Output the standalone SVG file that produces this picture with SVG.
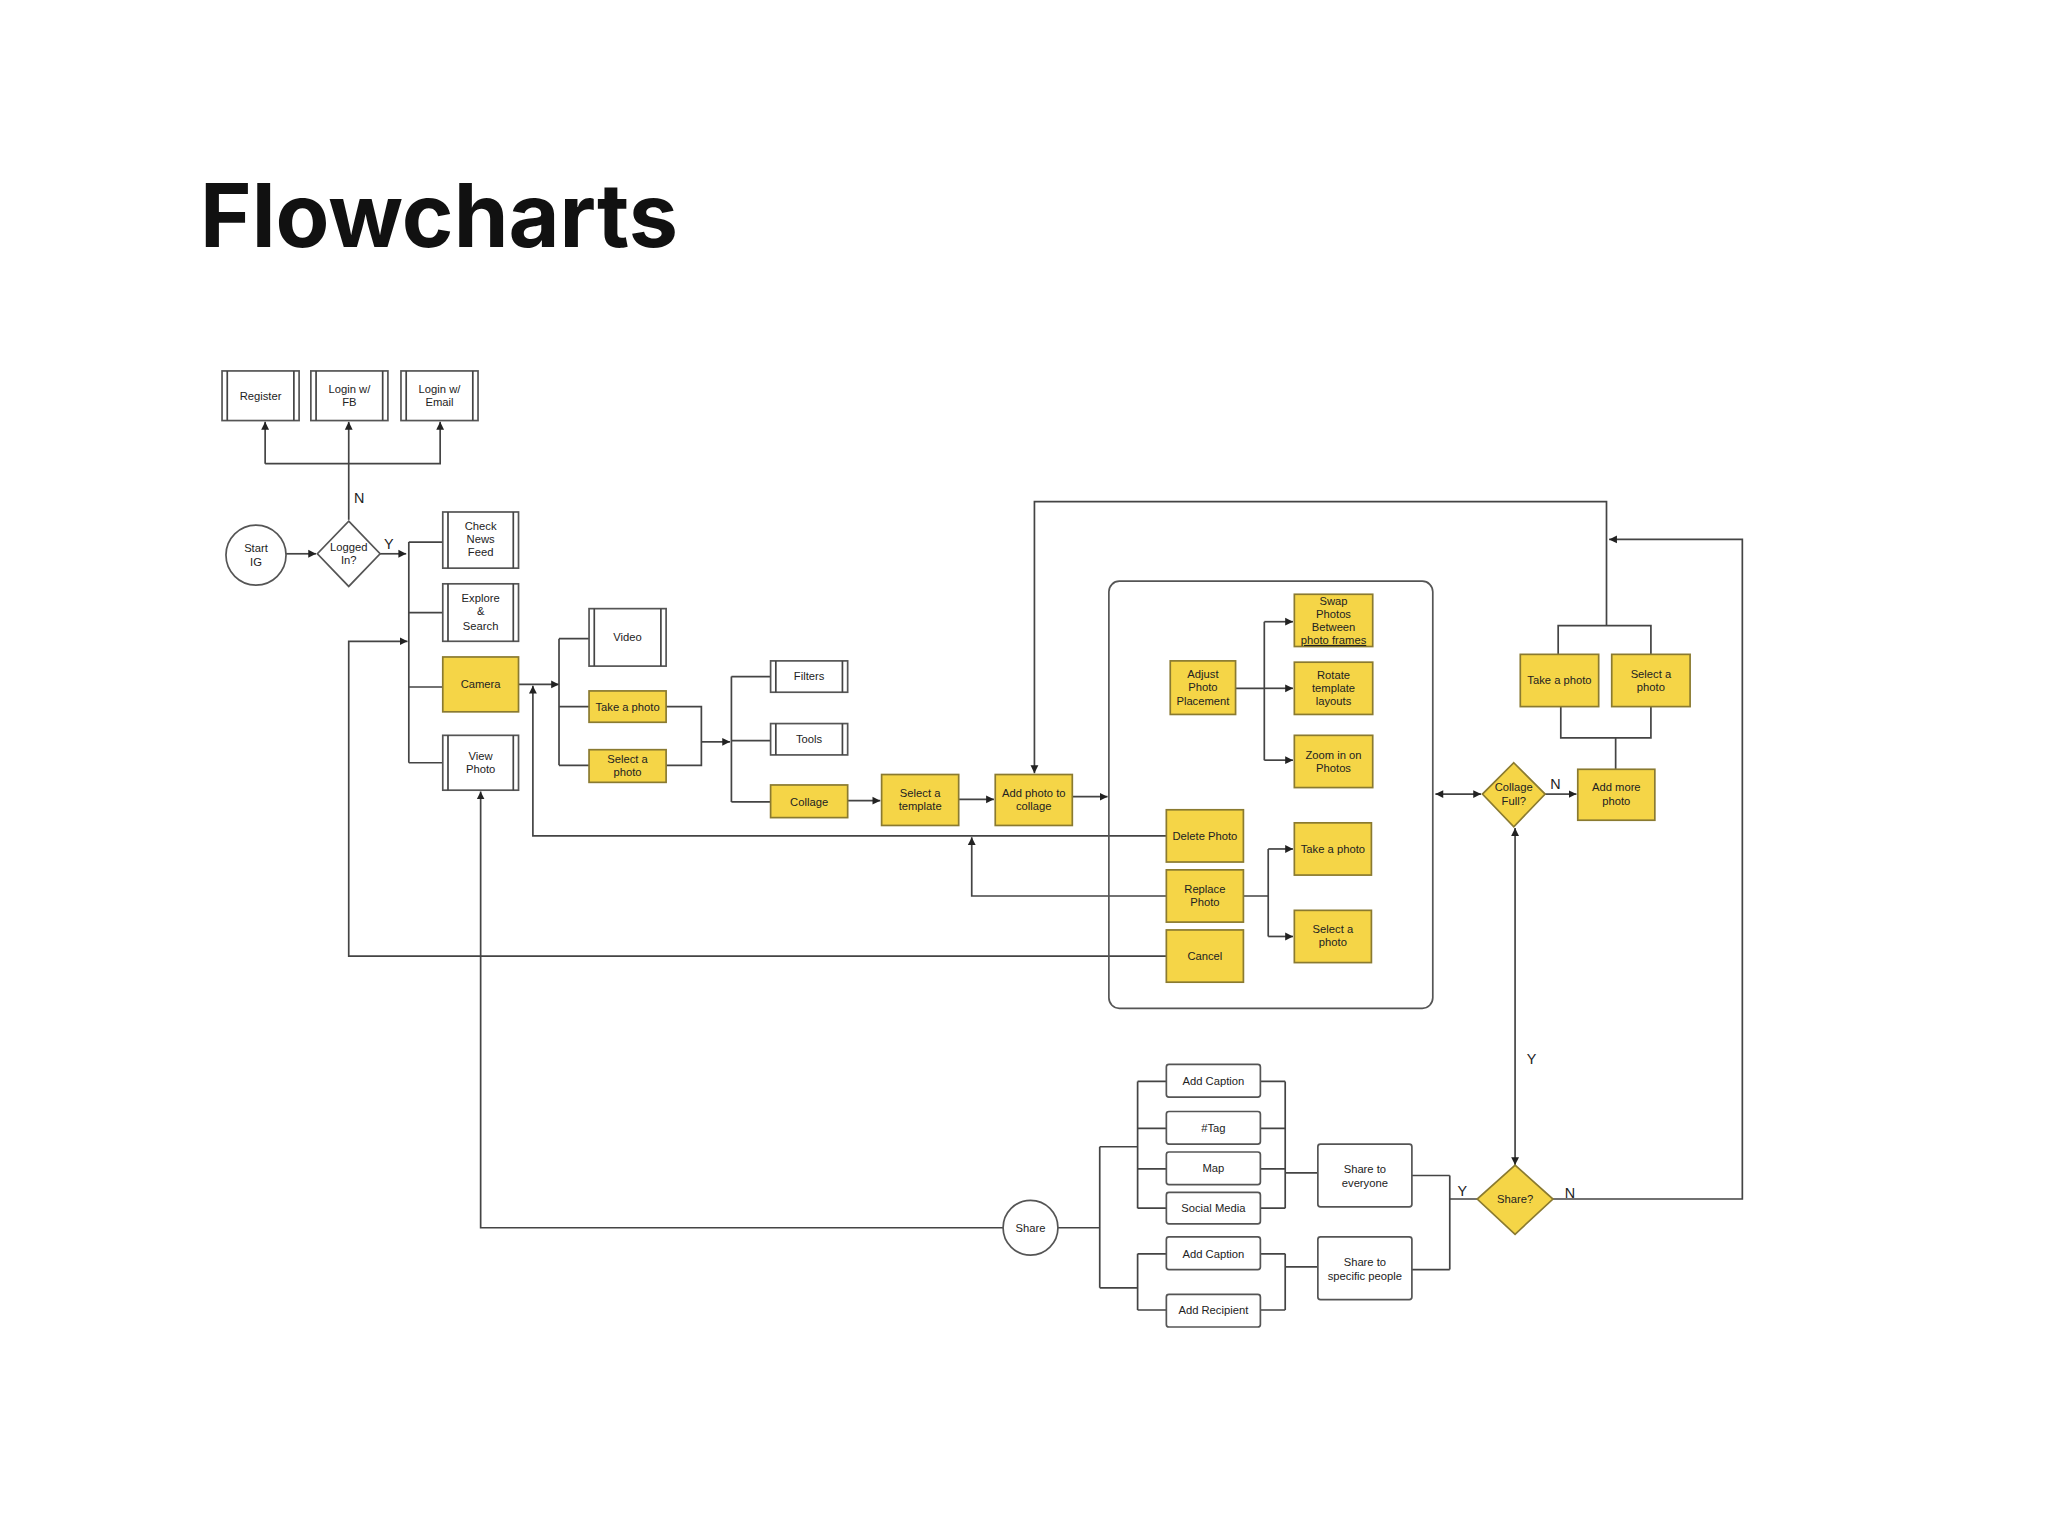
<svg xmlns="http://www.w3.org/2000/svg" width="2048" height="1536" viewBox="0 0 2048 1536">
<style>
.t{font-family:"Liberation Sans",Arial,sans-serif;font-size:8.6px;fill:#222;text-anchor:middle}
.l{font-family:"Liberation Sans",Arial,sans-serif;font-size:11px;fill:#222}
.w{fill:#fff;stroke:#555;stroke-width:1.3}
.y{fill:#f5d547;stroke:#8a7a30;stroke-width:1.3}
.c{fill:none;stroke:#444;stroke-width:1.3}
.a{fill:none;stroke:#444;stroke-width:1.3;marker-end:url(#ah)}
.ab{fill:none;stroke:#444;stroke-width:1.3;marker-end:url(#ah);marker-start:url(#as)}
</style>
<defs>
<marker id="ah" markerWidth="7" markerHeight="7" refX="6" refY="3.5" orient="auto" markerUnits="userSpaceOnUse"><path d="M0,0.5 L6,3.5 L0,6.5 Z" fill="#222"/></marker>
<marker id="as" markerWidth="7" markerHeight="7" refX="0" refY="3.5" orient="auto" markerUnits="userSpaceOnUse"><path d="M6,0.5 L0,3.5 L6,6.5 Z" fill="#222"/></marker>
</defs>
<rect width="2048" height="1536" fill="#fff"/>
<text x="200" y="247" font-family="Inter,Lato,sans-serif" font-weight="700" font-size="88" fill="#111">Flowcharts</text>
<g transform="scale(1.3061)">
<g id="connectors">
<path class="a" d="M267,398 V323"/>
<path class="a" d="M203,355 H337 V323"/>
<path class="a" d="M203,355 V323"/>
<path class="a" d="M219,424 H242"/>
<path class="a" d="M291,424 H311"/>
<path class="c" d="M313,415 V584 M313,415 H339 M313,469 H339 M313,526 H339 M313,584 H339"/>
<path class="a" d="M397,524 H428"/>
<path class="c" d="M428,489 V586 M428,489 H451 M428,541 H451 M428,586 H451"/>
<path class="c" d="M510,541 H537 V586 H510"/>
<path class="a" d="M537,568 H559"/>
<path class="c" d="M560,518 V614 M560,518 H590 M560,567 H590 M560,614 H590"/>
<path class="a" d="M649,613 H674"/>
<path class="a" d="M734,612 H761"/>
<path class="a" d="M821,610 H848"/>
<path class="a" d="M1230,479 V384 H792 V592"/>
<path class="c" d="M946,527 H968 M968,476 V582"/>
<path class="a" d="M968,476 H990"/>
<path class="a" d="M968,527 H990"/>
<path class="a" d="M968,582 H990"/>
<path class="a" d="M893,640 H408 V525"/>
<path class="a" d="M893,686 H744 V641"/>
<path class="c" d="M952,686 H971 M971,650 V717"/>
<path class="a" d="M971,650 H990"/>
<path class="a" d="M971,717 H990"/>
<path class="a" d="M893,732 H267 V491 H312"/>
<path class="ab" d="M1099,608 H1134"/>
<path class="a" d="M1183,608 H1207"/>
<path class="c" d="M1237,589 V565 M1195,541 V565 H1264 V541"/>
<path class="c" d="M1193,501 V479 H1264 V501"/>
<path class="a" d="M1189,918 H1334 V413 H1232"/>
<path class="ab" d="M1160,634 V892"/>
<path class="c" d="M1131,918 H1110 M1110,900 V972 M1081,900 H1110 M1081,972 H1110"/>
<path class="c" d="M965,828 H984 M965,864 H984 M965,895 H984 M965,925 H984 M984,828 V925 M984,898 H1009"/>
<path class="c" d="M871,828 H893 M871,864 H893 M871,895 H893 M871,925 H893 M871,828 V925"/>
<path class="c" d="M965,960 H984 M965,1003 H984 M984,960 V1003 M984,970 H1009"/>
<path class="c" d="M871,960 H893 M871,1003 H893 M871,960 V1003"/>
<path class="c" d="M842,878 H871 M842,986 H871 M842,878 V986 M810,940 H842"/>
<path class="a" d="M768,940 H368 V606"/>
</g>
<text class="l" x="271" y="385">N</text>
<text class="l" x="294" y="420">Y</text>
<text class="l" x="1187" y="604">N</text>
<text class="l" x="1169" y="815">Y</text>
<text class="l" x="1116" y="916">Y</text>
<text class="l" x="1198" y="917">N</text>
<g id="container"><rect x="849" y="445" width="248" height="327" rx="8" fill="none" stroke="#555" stroke-width="1.3"/></g>
<g id="register"><rect class="w" x="170" y="284" width="59" height="38"/><path class="c" d="M174,284V322M225,284V322"/><text class="t" x="199.5" y="306">Register</text></g>
<g id="loginfb"><rect class="w" x="238" y="284" width="59" height="38"/><path class="c" d="M242,284V322M293,284V322"/><text class="t" x="267.5" y="301">Login w/</text><text class="t" x="267.5" y="311">FB</text></g>
<g id="loginemail"><rect class="w" x="307" y="284" width="59" height="38"/><path class="c" d="M311,284V322M362,284V322"/><text class="t" x="336.5" y="301">Login w/</text><text class="t" x="336.5" y="311">Email</text></g>
<g id="start"><circle class="w" cx="196" cy="425" r="23"/><text class="t" x="196" y="423">Start</text><text class="t" x="196" y="433">IG</text></g>
<g id="logged"><path class="w" d="M267,399 L291,424 L267,449 L243,424 Z"/><text class="t" x="267" y="422">Logged</text><text class="t" x="267" y="432">In?</text></g>
<g id="news"><rect class="w" x="339" y="392" width="58" height="43"/><path class="c" d="M343,392V435M393,392V435"/><text class="t" x="368" y="406">Check</text><text class="t" x="368" y="416">News</text><text class="t" x="368" y="426">Feed</text></g>
<g id="explore"><rect class="w" x="339" y="447" width="58" height="44"/><path class="c" d="M343,447V491M393,447V491"/><text class="t" x="368" y="461">Explore</text><text class="t" x="368" y="471">&amp;</text><text class="t" x="368" y="482">Search</text></g>
<g id="camera"><rect class="y" x="339" y="503" width="58" height="42"/><text class="t" x="368" y="527">Camera</text></g>
<g id="viewphoto"><rect class="w" x="339" y="563" width="58" height="42"/><path class="c" d="M343,563V605M393,563V605"/><text class="t" x="368" y="582">View</text><text class="t" x="368" y="592">Photo</text></g>
<g id="video"><rect class="w" x="451" y="466" width="59" height="44"/><path class="c" d="M455,466V510M506,466V510"/><text class="t" x="480.5" y="491">Video</text></g>
<g id="take1"><rect class="y" x="451" y="529" width="59" height="24"/><text class="t" x="480.5" y="544">Take a photo</text></g>
<g id="select1"><rect class="y" x="451" y="574" width="59" height="25"/><text class="t" x="480.5" y="584">Select a</text><text class="t" x="480.5" y="594">photo</text></g>
<g id="filters"><rect class="w" x="590" y="506" width="59" height="24"/><path class="c" d="M594,506V530M645,506V530"/><text class="t" x="619.5" y="521">Filters</text></g>
<g id="tools"><rect class="w" x="590" y="554" width="59" height="24"/><path class="c" d="M594,554V578M645,554V578"/><text class="t" x="619.5" y="569">Tools</text></g>
<g id="collage"><rect class="y" x="590" y="601" width="59" height="25"/><text class="t" x="619.5" y="617">Collage</text></g>
<g id="template"><rect class="y" x="675" y="593" width="59" height="39"/><text class="t" x="704.5" y="610">Select a</text><text class="t" x="704.5" y="620">template</text></g>
<g id="addphoto"><rect class="y" x="762" y="593" width="59" height="39"/><text class="t" x="791.5" y="610">Add photo to</text><text class="t" x="791.5" y="620">collage</text></g>
<g id="adjust"><rect class="y" x="896" y="506" width="50" height="41"/><text class="t" x="921" y="519">Adjust</text><text class="t" x="921" y="529">Photo</text><text class="t" x="921" y="540">Placement</text></g>
<g id="swap"><rect class="y" x="991" y="455" width="60" height="40"/><text class="t" x="1021" y="463">Swap</text><text class="t" x="1021" y="473">Photos</text><text class="t" x="1021" y="483">Between</text><text class="t" x="1021" y="493" text-decoration="underline">photo frames</text></g>
<g id="rotate"><rect class="y" x="991" y="507" width="60" height="40"/><text class="t" x="1021" y="520">Rotate</text><text class="t" x="1021" y="530">template</text><text class="t" x="1021" y="540">layouts</text></g>
<g id="zoom"><rect class="y" x="991" y="563" width="60" height="40"/><text class="t" x="1021" y="581">Zoom in on</text><text class="t" x="1021" y="591">Photos</text></g>
<g id="delete"><rect class="y" x="893" y="620" width="59" height="40"/><text class="t" x="922.5" y="643">Delete Photo</text></g>
<g id="replace"><rect class="y" x="893" y="666" width="59" height="40"/><text class="t" x="922.5" y="684">Replace</text><text class="t" x="922.5" y="694">Photo</text></g>
<g id="cancel"><rect class="y" x="893" y="712" width="59" height="40"/><text class="t" x="922.5" y="735">Cancel</text></g>
<g id="take2"><rect class="y" x="991" y="630" width="59" height="40"/><text class="t" x="1020.5" y="653">Take a photo</text></g>
<g id="select2"><rect class="y" x="991" y="697" width="59" height="40"/><text class="t" x="1020.5" y="714">Select a</text><text class="t" x="1020.5" y="724">photo</text></g>
<g id="collagefull"><path class="y" d="M1159,584 L1183,608 L1159,633 L1135,608 Z"/><text class="t" x="1159" y="606">Collage</text><text class="t" x="1159" y="616">Full?</text></g>
<g id="addmore"><rect class="y" x="1208" y="589" width="59" height="39"/><text class="t" x="1237.5" y="606">Add more</text><text class="t" x="1237.5" y="616">photo</text></g>
<g id="take3"><rect class="y" x="1164" y="501" width="60" height="40"/><text class="t" x="1194" y="524">Take a photo</text></g>
<g id="select3"><rect class="y" x="1234" y="501" width="60" height="40"/><text class="t" x="1264" y="519">Select a</text><text class="t" x="1264" y="529">photo</text></g>
<g id="share"><circle class="w" cx="789" cy="940" r="21"/><text class="t" x="789" y="943">Share</text></g>
<g id="sharedec"><path class="y" d="M1160,892 L1189,918 L1160,945 L1131,918 Z"/><text class="t" x="1160" y="921">Share?</text></g>
<g id="cap1"><rect class="w" x="893" y="815" width="72" height="25" rx="2"/><text class="t" x="929" y="831">Add Caption</text></g>
<g id="tag"><rect class="w" x="893" y="851" width="72" height="25" rx="2"/><text class="t" x="929" y="867">#Tag</text></g>
<g id="map"><rect class="w" x="893" y="882" width="72" height="25" rx="2"/><text class="t" x="929" y="897">Map</text></g>
<g id="social"><rect class="w" x="893" y="913" width="72" height="24" rx="2"/><text class="t" x="929" y="928">Social Media</text></g>
<g id="cap2"><rect class="w" x="893" y="947" width="72" height="25" rx="2"/><text class="t" x="929" y="963">Add Caption</text></g>
<g id="recip"><rect class="w" x="893" y="991" width="72" height="25" rx="2"/><text class="t" x="929" y="1006">Add Recipient</text></g>
<g id="everyone"><rect class="w" x="1009" y="876" width="72" height="48" rx="2"/><text class="t" x="1045" y="898">Share to</text><text class="t" x="1045" y="909">everyone</text></g>
<g id="specific"><rect class="w" x="1009" y="947" width="72" height="48" rx="2"/><text class="t" x="1045" y="969">Share to</text><text class="t" x="1045" y="980">specific people</text></g>
</g>
</svg>
